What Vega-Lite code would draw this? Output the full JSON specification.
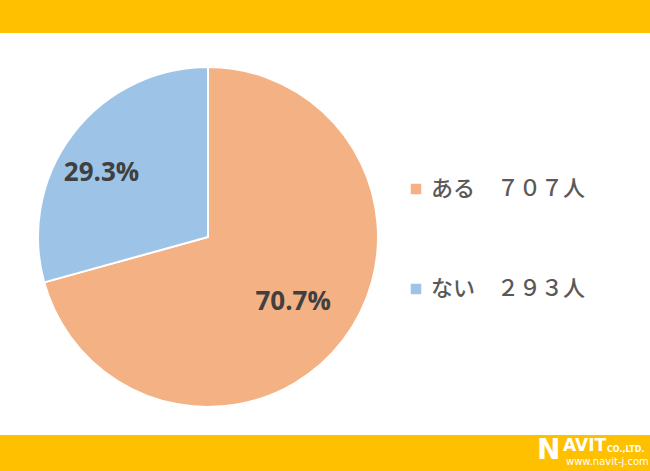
{
  "$schema": "https://vega.github.io/schema/vega-lite/v6.json",
  "width": 650,
  "height": 471,
  "autosize": {"type": "fit", "contains": "padding"},
  "padding": 0,
  "background": "white",
  "config": {
    "view": {"stroke": null},
    "legend": {
      "orient": "none",
      "legendX": 405,
      "legendY": 178,
      "title": null,
      "symbolType": "square",
      "symbolSize": 110,
      "symbolStrokeWidth": 0,
      "labelFontSize": 22,
      "labelFont": "Noto Sans CJK JP",
      "labelFontWeight": 500,
      "labelColor": "#595959",
      "labelOffset": 4,
      "rowPadding": 78
    }
  },
  "data": {
    "values": [
      {"answer": "ある　７０７人", "pct": 70.7, "label": "70.7%", "order": 1},
      {"answer": "ない　２９３人", "pct": 29.3, "label": "29.3%", "order": 2}
    ]
  },
  "layer": [
    {
      "data": {"values": [{}]},
      "mark": {"type": "rect", "color": "#FFC000", "x": 0, "x2": {"expr": "width"}, "y": 0, "y2": 33},
      "encoding": {}
    },
    {
      "data": {"values": [{}]},
      "mark": {"type": "rect", "color": "#FFC000", "x": 0, "x2": {"expr": "width"}, "y": 435, "y2": {"expr": "height"}},
      "encoding": {}
    },
    {
      "mark": {"type": "arc", "outerRadius": 170, "stroke": "white", "strokeWidth": 2, "x": 208, "y": 237},
      "encoding": {
        "theta": {"field": "pct", "type": "quantitative", "stack": true},
        "order": {"field": "order", "type": "quantitative"},
        "color": {
          "field": "answer",
          "type": "nominal",
          "scale": {"domain": ["ある　７０７人", "ない　２９３人"], "range": ["#F4B183", "#9DC3E6"]}
        }
      }
    },
    {
      "mark": {"type": "text", "radius": 107, "x": 208, "y": 237, "font": "Open Sans", "fontWeight": "bold", "fontSize": 26, "color": "#404040"},
      "encoding": {
        "theta": {"field": "pct", "type": "quantitative", "stack": true},
        "order": {"field": "order", "type": "quantitative"},
        "text": {"condition": {"test": "datum.order == 1", "field": "label"}, "value": ""}
      }
    },
    {
      "mark": {"type": "text", "radius": 125, "dx": -7, "dy": 12, "x": 208, "y": 237, "font": "Open Sans", "fontWeight": "bold", "fontSize": 26, "color": "#404040"},
      "encoding": {
        "theta": {"field": "pct", "type": "quantitative", "stack": true},
        "order": {"field": "order", "type": "quantitative"},
        "text": {"condition": {"test": "datum.order == 2", "field": "label"}, "value": ""}
      }
    },
    {
      "data": {"values": [{"t": "N"}]},
      "mark": {"type": "text", "x": 537, "y": 459, "align": "left", "baseline": "alphabetic", "font": "DejaVu Sans", "fontWeight": "bold", "fontSize": 28, "color": "white"},
      "encoding": {"text": {"field": "t"}}
    },
    {
      "data": {"values": [{"t": "AVIT"}]},
      "mark": {"type": "text", "x": 563, "y": 451, "align": "left", "baseline": "alphabetic", "font": "DejaVu Sans", "fontWeight": "bold", "fontSize": 17, "color": "white"},
      "encoding": {"text": {"field": "t"}}
    },
    {
      "data": {"values": [{"t": "CO.,LTD."}]},
      "mark": {"type": "text", "x": 607, "y": 452, "align": "left", "baseline": "alphabetic", "font": "DejaVu Sans", "fontWeight": "bold", "fontSize": 8, "color": "white"},
      "encoding": {"text": {"field": "t"}}
    },
    {
      "data": {"values": [{"t": "www.navit-j.com"}]},
      "mark": {"type": "text", "x": 566, "y": 465, "align": "left", "baseline": "alphabetic", "font": "DejaVu Sans", "fontSize": 10, "color": "white"},
      "encoding": {"text": {"field": "t"}}
    }
  ]
}
